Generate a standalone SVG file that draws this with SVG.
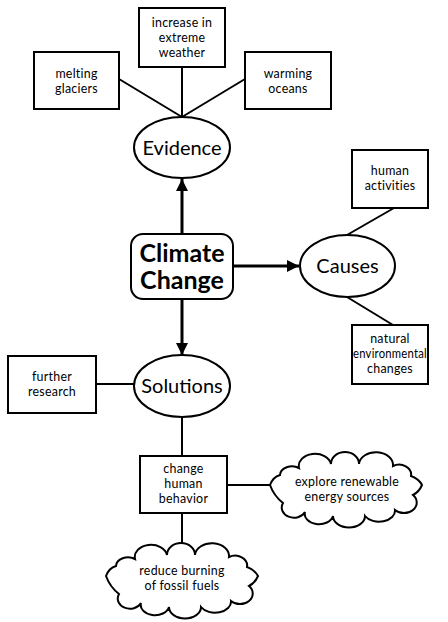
<svg xmlns="http://www.w3.org/2000/svg" width="448" height="622" viewBox="0 0 448 622">
<style>
.box{fill:#fff;stroke:#000;stroke-width:2}
.ell{fill:#fff;stroke:#000;stroke-width:2}
.t{font-family:Lato,"Liberation Sans",sans-serif;font-size:12.4px;letter-spacing:0.25px;fill:#000;text-anchor:middle}
.big{font-family:Lato,"Liberation Sans",sans-serif;font-size:20px;fill:#000;text-anchor:middle}
.title{font-family:Lato,"Liberation Sans",sans-serif;font-size:25px;font-weight:bold;fill:#000;text-anchor:middle}
.ln{stroke:#000;stroke-width:2;fill:none}
.ar{stroke:#000;stroke-width:3;fill:none;marker-end:url(#ah)}
</style>
<defs>
<marker id="ah" markerUnits="userSpaceOnUse" markerWidth="12" markerHeight="12" refX="12" refY="6" orient="auto">
<path d="M0,0 L12,6 L0,12 Z" fill="#000"/>
</marker>
<path id="cloud" d="M -77,-3 Q -74,-11 -67,-13 A 12 9 0 0 1 -48,-20 A 16 12 0 0 1 -16,-24 A 14 12 0 0 1 12,-24 A 16 12 0 0 1 46,-22 A 12 10 0 0 1 64,-12 Q 72,-9 75,-3 Q 72,4 66,7 A 12 10 0 0 1 48,22 A 16 11 0 0 1 18,28 A 14 10 0 0 1 -14,28 A 14 10 0 0 1 -42,24 A 12 10 0 0 1 -64,15 Q -73,8 -77,-3 Z" fill="#fff" stroke="#000" stroke-width="2"/>
</defs>

<g id="connectors">
<line class="ln" x1="119" y1="79" x2="182" y2="117"/>
<line class="ln" x1="182" y1="67" x2="182" y2="117"/>
<line class="ln" x1="245" y1="79" x2="182" y2="117"/>
<line class="ar" x1="182" y1="234" x2="182" y2="179"/>
<line class="ar" x1="233" y1="266" x2="299" y2="266"/>
<line class="ar" x1="182" y1="299" x2="182" y2="355"/>
<line class="ln" x1="394" y1="208" x2="347" y2="235"/>
<line class="ln" x1="347" y1="297" x2="393" y2="325"/>
<line class="ln" x1="96" y1="384" x2="134" y2="384"/>
<line class="ln" x1="182" y1="417" x2="182" y2="456"/>
<line class="ln" x1="227" y1="485" x2="272" y2="485"/>
<line class="ln" x1="182" y1="513" x2="182" y2="549"/>
</g>

<g id="melting-glaciers">
<rect class="box" x="34" y="52" width="85" height="57"/>
<text class="t" x="76.5" y="78">melting</text>
<text class="t" x="76.5" y="93">glaciers</text>
</g>
<g id="increase-extreme-weather">
<rect class="box" x="139" y="8" width="86" height="59"/>
<text class="t" x="182" y="27">increase in</text>
<text class="t" x="182" y="42">extreme</text>
<text class="t" x="182" y="57">weather</text>
</g>
<g id="warming-oceans">
<rect class="box" x="245" y="52" width="86" height="57"/>
<text class="t" x="288" y="78">warming</text>
<text class="t" x="288" y="93">oceans</text>
</g>
<g id="evidence">
<ellipse class="ell" cx="182" cy="147.5" rx="48" ry="30.5"/>
<text class="big" x="182" y="154.5">Evidence</text>
</g>
<g id="climate-change">
<rect class="box" x="131" y="234" width="102" height="65" rx="12"/>
<text class="title" x="182" y="262">Climate</text>
<text class="title" x="182" y="289">Change</text>
</g>
<g id="causes">
<ellipse class="ell" cx="347.5" cy="266" rx="47.5" ry="31"/>
<text class="big" x="347.5" y="273">Causes</text>
</g>
<g id="human-activities">
<rect class="box" x="352" y="150" width="76" height="58"/>
<text class="t" x="390" y="175">human</text>
<text class="t" x="390" y="190">activities</text>
</g>
<g id="natural-environmental-changes">
<rect class="box" x="352" y="325" width="76" height="59"/>
<text class="t" x="390" y="343">natural</text>
<text class="t" x="390" y="358" textLength="74" lengthAdjust="spacingAndGlyphs">environmental</text>
<text class="t" x="390" y="373">changes</text>
</g>
<g id="solutions">
<ellipse class="ell" cx="182" cy="386" rx="48" ry="31"/>
<text class="big" x="182" y="393">Solutions</text>
</g>
<g id="further-research">
<rect class="box" x="8" y="356" width="88" height="57"/>
<text class="t" x="52" y="381">further</text>
<text class="t" x="52" y="396">research</text>
</g>
<g id="change-human-behavior">
<rect class="box" x="140" y="456" width="87" height="57"/>
<text class="t" x="183.5" y="473">change</text>
<text class="t" x="183.5" y="488">human</text>
<text class="t" x="183.5" y="503">behavior</text>
</g>
<g id="explore-renewable">
<use href="#cloud" transform="translate(347,488)"/>
<text class="t" x="347" y="486">explore renewable</text>
<text class="t" x="347" y="501">energy sources</text>
</g>
<g id="reduce-burning">
<use href="#cloud" transform="translate(183,579)"/>
<text class="t" x="182" y="575">reduce burning</text>
<text class="t" x="182" y="590">of fossil fuels</text>
</g>
</svg>
